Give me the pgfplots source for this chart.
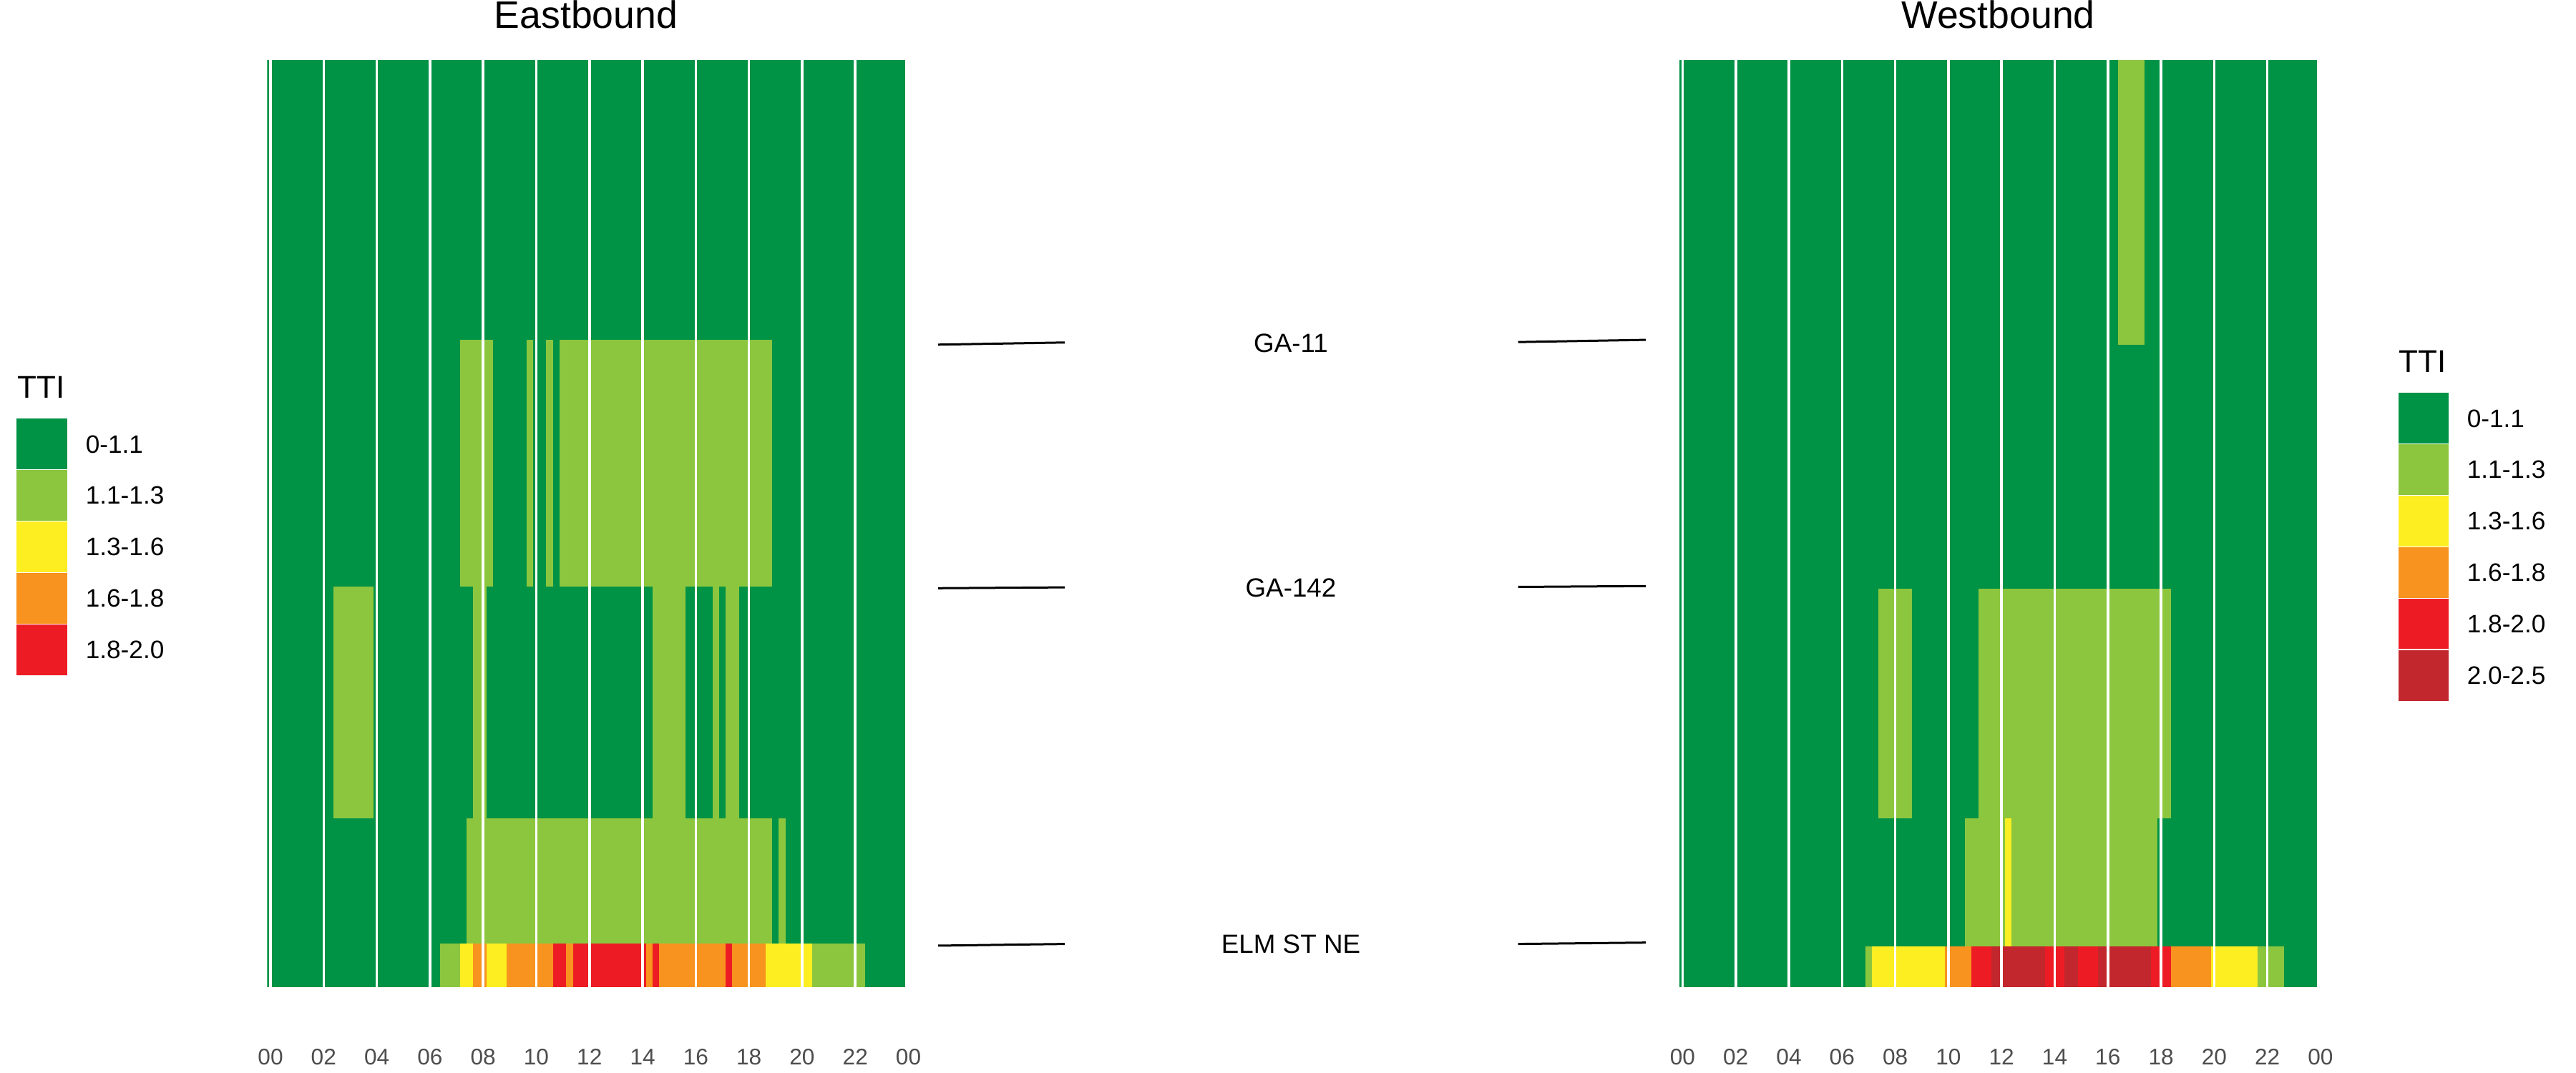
\documentclass[border=0pt]{standalone}
\usepackage{pgfplots}
\usepackage{pgfplotstable}
\pgfplotsset{compat=1.18}
\usepackage{fontspec}
\setmainfont{Liberation Sans}
\definecolor{ttigr}{HTML}{009245}
\definecolor{ttilg}{HTML}{8CC63F}
\definecolor{ttiye}{HTML}{FCEE21}
\definecolor{ttior}{HTML}{F7931E}
\definecolor{ttird}{HTML}{ED1C24}
\definecolor{ttidr}{HTML}{C1272D}
\definecolor{tickgrey}{HTML}{4D4D4D}

% runs of equal TTI class: start hour, end hour, segment bottom, segment top, class
\pgfplotstableread{
x0 x1 y0 y1 c
-0.125 23.875 0 1296 gr
7.125 8.375 560 905 lg
9.625 9.875 560 905 lg
10.375 10.625 560 905 lg
10.875 18.875 560 905 lg
2.375 3.875 236 560 lg
7.625 8.125 236 560 lg
14.375 15.625 236 560 lg
16.625 16.875 236 560 lg
17.125 17.625 236 560 lg
7.375 18.875 61 236 lg
19.125 19.375 61 236 lg
6.375 7.125 0 61 lg
7.125 7.625 0 61 ye
7.625 8.125 0 61 or
8.125 8.875 0 61 ye
8.875 10.625 0 61 or
10.625 11.125 0 61 rd
11.125 11.375 0 61 or
11.375 14.125 0 61 rd
14.125 14.375 0 61 or
14.375 14.625 0 61 rd
14.625 17.125 0 61 or
17.125 17.375 0 61 rd
17.375 18.625 0 61 or
18.625 20.375 0 61 ye
20.375 22.375 0 61 lg
}\eastdata

\pgfplotstableread{
x0 x1 y0 y1 c
-0.125 23.875 0 1296 gr
16.375 17.375 898 1296 lg
7.375 8.625 236 557 lg
11.125 18.375 236 557 lg
10.625 12.125 57 236 lg
12.125 12.375 57 236 ye
12.375 17.875 57 236 lg
6.875 7.125 0 57 lg
7.125 9.875 0 57 ye
9.875 10.875 0 57 or
10.875 11.625 0 57 rd
11.625 13.625 0 57 dr
13.625 14.375 0 57 rd
14.375 14.875 0 57 dr
14.875 15.625 0 57 rd
15.625 17.625 0 57 dr
17.625 18.375 0 57 rd
18.375 19.875 0 57 or
19.875 21.625 0 57 ye
21.625 22.625 0 57 lg
}\westdata

\newcommand{\drawtiles}[1]{%
  \pgfplotstablegetrowsof{#1}%
  \pgfmathtruncatemacro{\nrows}{\pgfplotsretval-1}%
  \pgfplotsforeachungrouped \i in {0,...,\nrows}{%
    \pgfplotstablegetelem{\i}{x0}\of{#1}\let\xa\pgfplotsretval
    \pgfplotstablegetelem{\i}{x1}\of{#1}\let\xb\pgfplotsretval
    \pgfplotstablegetelem{\i}{y0}\of{#1}\let\ya\pgfplotsretval
    \pgfplotstablegetelem{\i}{y1}\of{#1}\let\yb\pgfplotsretval
    \pgfplotstablegetelem{\i}{c}\of{#1}\let\cc\pgfplotsretval
    \edef\temp{\noexpand\addplot[fill=tti\cc, draw=none, forget plot] coordinates {(\xa,\ya) (\xb,\ya) (\xb,\yb) (\xa,\yb)};}%
    \temp
  }%
}

\pgfplotsset{tti panel/.style={
  scale only axis, width=224.05pt, height=324pt,
  xmin=-0.125, xmax=24, ymin=0, ymax=1296,
  xtick={0,2,...,24}, xticklabels={00,02,04,06,08,10,12,14,16,18,20,22,00},
  ytick=\empty,
  xmajorgrids, grid style={white, line width=0.9pt},
  axis on top, axis line style={draw=none}, major tick length=0pt, tick style={draw=none},
  xticklabel style={anchor=base, yshift=-27.05pt, font=\fontsize{7.9}{9}\selectfont, text=tickgrey, inner sep=0pt},
  anchor=south west,
}}

\begin{document}
\begin{tikzpicture}
\useasboundingbox (0,0) rectangle (900pt,375pt);
\begin{axis}[tti panel, at={(93.34pt,30pt)}]
\drawtiles{\eastdata}
\end{axis}
\begin{axis}[tti panel, at={(586.69pt,30pt)}]
\drawtiles{\westdata}
\end{axis}
\begin{scope}[x=0.25pt,y=0.25pt]
  % titles
  \node[anchor=base, inner sep=0, font=\fontsize{13.4}{16}\selectfont] at (819,1460) {Eastbound};
  \node[anchor=base, inner sep=0, font=\fontsize{13.4}{16}\selectfont] at (2792.6,1460) {Westbound};
  % intersection labels
  \node[anchor=base, inner sep=0, font=\fontsize{9.2}{11}\selectfont] at (1804,1007.7) {GA-11};
  \node[anchor=base, inner sep=0, font=\fontsize{9.2}{11}\selectfont] at (1804,665.4) {GA-142};
  \node[anchor=base, inner sep=0, font=\fontsize{9.2}{11}\selectfont] at (1804,167.6) {ELM ST NE};
  \draw[line width=0.75pt] (1311,1018.2) -- (1488,1021.2);
  \draw[line width=0.75pt] (2121.6,1021.8) -- (2300,1024.9);
  \draw[line width=0.75pt] (1311,677.7) -- (1488,678.9);
  \draw[line width=0.75pt] (2121.6,679.5) -- (2300,680.7);
  \draw[line width=0.75pt] (1311,178) -- (1488,180.4);
  \draw[line width=0.75pt] (2121.6,180.4) -- (2300,182.3);
  % left legend
  \node[anchor=base west, inner sep=0, font=\fontsize{11}{13}\selectfont] at (24,943) {TTI};
  \foreach \c/\t [count=\k from 0] in {ttigr/0-1.1, ttilg/1.1-1.3, ttiye/1.3-1.6, ttior/1.6-1.8, ttird/1.8-2.0}{
    \fill[\c] (23,{915-71.8*\k}) rectangle (94,{915-71.8*(\k+1)});
    \node[anchor=west, inner sep=0, font=\fontsize{8.8}{10}\selectfont] at (119,{879.1-71.8*\k}) {\t};
  }
  \foreach \k in {1,2,3,4}{\draw[white, line width=0.3pt] (23,{915-71.8*\k}) -- (94,{915-71.8*\k});}
  % right legend
  \node[anchor=base west, inner sep=0, font=\fontsize{11}{13}\selectfont] at (3352,979) {TTI};
  \foreach \c/\t [count=\k from 0] in {ttigr/0-1.1, ttilg/1.1-1.3, ttiye/1.3-1.6, ttior/1.6-1.8, ttird/1.8-2.0, ttidr/2.0-2.5}{
    \fill[\c] (3352,{951-71.8*\k}) rectangle (3422,{951-71.8*(\k+1)});
    \node[anchor=west, inner sep=0, font=\fontsize{8.8}{10}\selectfont] at (3447,{915.1-71.8*\k}) {\t};
  }
  \foreach \k in {1,2,3,4,5}{\draw[white, line width=0.3pt] (3352,{951-71.8*\k}) -- (3422,{951-71.8*\k});}
\end{scope}
\end{tikzpicture}
\end{document}
